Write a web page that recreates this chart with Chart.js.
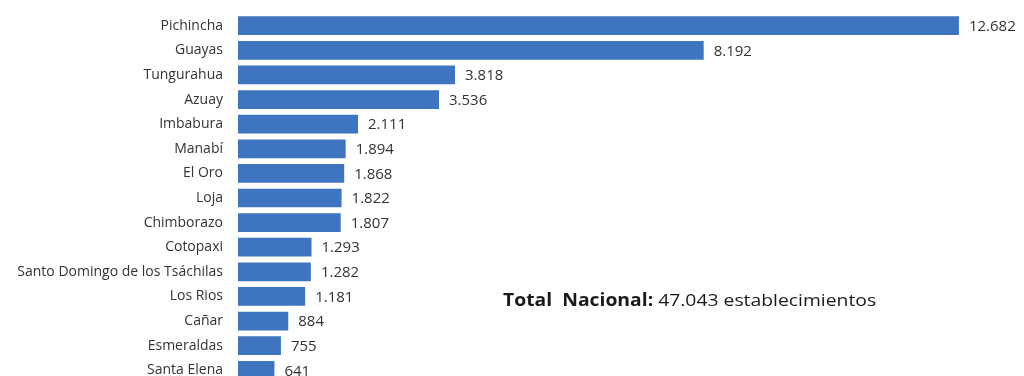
<!DOCTYPE html>
<html>
<head>
<meta charset="utf-8">
<script src="https://cdn.jsdelivr.net/npm/chart.js@4.4.0/dist/chart.umd.min.js"></script>
<style>
  html, body { margin: 0; padding: 0; background: #fff; overflow: hidden; }
  #wrap { position: relative; width: 1024px; height: 376px; overflow: hidden; }
  #provChart { position: absolute; left: 0; top: -10px; }
  #total {
    position: absolute; left: 503px; top: 288px;
    font-family: "Open Sans", sans-serif; font-size: 17px; color: #1a1a1a;
    white-space: nowrap; transform-origin: left center; transform: scaleX(1.137);
  }
  #total b { font-weight: bold; }
</style>
</head>
<body>
<div id="wrap">
  <canvas id="provChart" width="1024" height="416"></canvas>
  <div id="total"><b>Total&nbsp; Nacional:</b> 47.043 establecimientos</div>
</div>
<script>
const provincias = ["Pichincha", "Guayas", "Tungurahua", "Azuay", "Imbabura", "Manabí", "El Oro", "Loja",
  "Chimborazo", "Cotopaxi", "Santo Domingo de los Tsáchilas", "Los Rios", "Cañar", "Esmeraldas", "Santa Elena"];
const establecimientos = [12682, 8192, 3818, 3536, 2111, 1894, 1868, 1822, 1807, 1293, 1282, 1181, 884, 755, 641];

function fmt(n) {
  return String(n).replace(/\B(?=(\d{3})+(?!\d))/g, '.');
}

// etiquetas de valor al final de cada barra
const valueLabels = {
  id: 'valueLabels',
  afterDatasetsDraw(chart) {
    const ctx = chart.ctx;
    const meta = chart.getDatasetMeta(0);
    ctx.save();
    ctx.font = '15px "Open Sans", sans-serif';
    ctx.fillStyle = '#333333';
    ctx.textBaseline = 'middle';
    ctx.textAlign = 'left';
    meta.data.forEach(function(bar, i) {
      ctx.fillText(fmt(establecimientos[i]), bar.x + 10, bar.y + 1);
    });
    ctx.restore();
  }
};

const ctx = document.getElementById('provChart').getContext('2d');
const provChart = new Chart(ctx, {
  type: 'bar',
  data: {
    labels: provincias,
    datasets: [{
      label: 'Establecimientos',
      data: establecimientos,
      backgroundColor: '#3e74c0',
      borderWidth: 0,
      barPercentage: 0.76,
      categoryPercentage: 1.0
    }]
  },
  options: {
    indexAxis: 'y',
    responsive: false,
    animation: false,
    devicePixelRatio: 1,
    layout: { padding: { top: 2.4, right: 47, bottom: 0, left: 0 } },
    plugins: { legend: { display: false }, tooltip: { enabled: false } },
    scales: {
      x: { display: false, min: 0, max: 13000 },
      y: {
        grid: { display: false, drawTicks: false },
        border: { display: false },
        ticks: {
          padding: 15,
          color: '#333333',
          font: { family: '"Open Sans", sans-serif', size: 14 }
        },
        afterFit: function(scale) { scale.width = 238; }
      }
    }
  },
  plugins: [valueLabels]
});
</script>
</body>
</html>
